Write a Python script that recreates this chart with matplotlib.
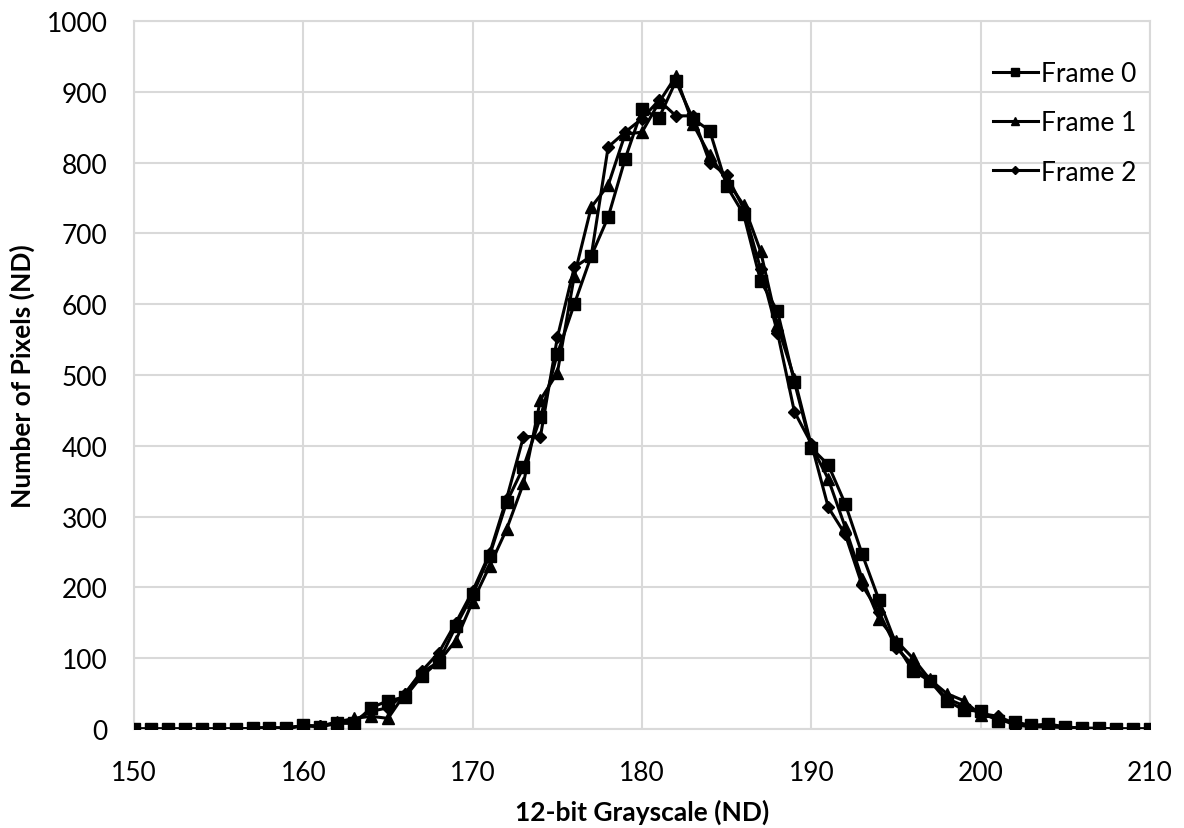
import matplotlib
matplotlib.use("Agg")
import matplotlib.pyplot as plt
import numpy as np

grayscale = list(range(150, 211))

frame0 = [0, 0, 0, 0, 0, 0, 0, 1, 2, 1,
          5, 3, 8, 8, 30, 40, 45, 75, 95, 145,
          190, 245, 320, 370, 440, 530, 600, 668, 723, 805,
          875, 863, 915, 862, 845, 767, 727, 633, 590, 490,
          397, 373, 318, 247, 182, 120, 82, 68, 40, 27,
          25, 12, 10, 5, 7, 3, 1, 1, 0, 0, 0]

frame1 = [0, 0, 0, 0, 0, 0, 0, 1, 2, 1,
          5, 4, 10, 15, 18, 15, 50, 80, 95, 125,
          180, 230, 282, 347, 465, 503, 640, 737, 768, 840,
          843, 885, 922, 855, 810, 775, 740, 675, 570, 495,
          400, 353, 285, 212, 155, 125, 100, 70, 50, 40,
          20, 15, 6, 3, 3, 2, 1, 0, 0, 0, 0]

frame2 = [0, 0, 0, 0, 0, 0, 0, 1, 2, 1,
          5, 4, 9, 12, 25, 30, 50, 82, 108, 150,
          195, 248, 325, 413, 413, 553, 652, 668, 822, 843,
          862, 888, 866, 866, 800, 782, 735, 650, 560, 448,
          403, 313, 275, 203, 165, 115, 90, 68, 43, 33,
          22, 18, 8, 4, 5, 3, 1, 1, 0, 0, 0]

series_names = ["Frame 0", "Frame 1", "Frame 2"]
xticks = list(range(150, 211, 10))
yticks = list(range(0, 1001, 100))

plt.rcParams['font.family'] = ['Lato', 'DejaVu Sans']

fig = plt.figure(figsize=(11.84, 8.29), dpi=100)
ax = fig.add_axes([0.1132, 0.1194, 0.9713 - 0.1132, 0.9735 - 0.1194])

ax.plot(grayscale, frame0, color='black', lw=2.2, marker='s', ms=8.5, label=series_names[0], zorder=3)
ax.plot(grayscale, frame1, color='black', lw=2.2, marker='^', ms=8.5, label=series_names[1], zorder=3)
ax.plot(grayscale, frame2, color='black', lw=2.2, marker='D', ms=6.5, label=series_names[2], zorder=3)

ax.set_xlim(150, 210)
ax.set_ylim(0, 1000)
ax.set_xticks(xticks)
ax.set_yticks(yticks)
ax.grid(True, color='#d9d9d9', lw=1.5, zorder=0)
ax.set_axisbelow(True)
for s in ax.spines.values():
    s.set_color('#d9d9d9')
    s.set_linewidth(1.5)
ax.tick_params(length=0, labelsize=19)
ax.tick_params(axis='y', pad=19)
ax.tick_params(axis='x', pad=22)

ax.set_xlabel("12-bit Grayscale (ND)", fontsize=19, fontweight='bold')
ax.set_ylabel("Number of Pixels (ND)", fontsize=19, fontweight='bold')
ax.xaxis.label.set_va('center')
ax.yaxis.label.set_va('center')
ax.xaxis.set_label_coords(0.5, (730 - 812) / 708)
ax.yaxis.set_label_coords((22 - 134) / 1016, 0.5)

leg = ax.legend(loc='upper left', bbox_to_anchor=((993 - 134) / 1016, (730 - 62) / 708),
                frameon=False, fontsize=19, borderpad=0, borderaxespad=0,
                handlelength=1.7, labelspacing=0.92, markerscale=0.7, handletextpad=0.1)

fig.savefig("out.png", dpi=100)
